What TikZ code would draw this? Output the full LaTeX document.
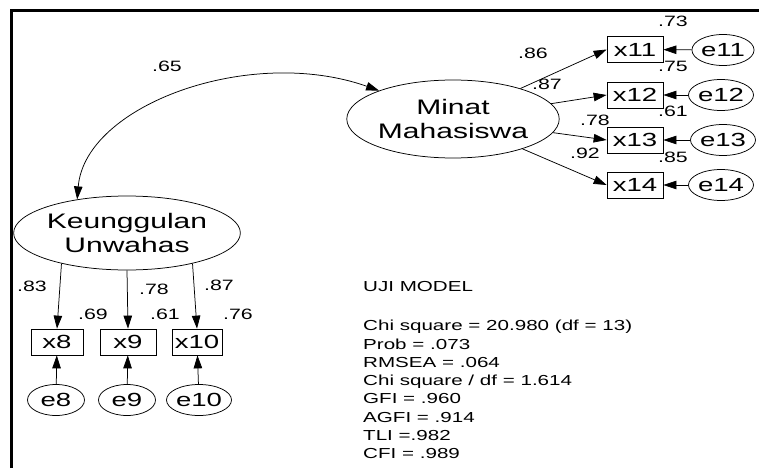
\documentclass[tikz,border=0pt]{standalone}
\usepackage{fontspec}
\setmainfont{Liberation Sans}
\newfontfamily\latfont[FakeStretch=1.43]{Liberation Sans}
\newfontfamily\obsfont[FakeStretch=1.45]{Liberation Sans}
\newfontfamily\lblfont[FakeStretch=1.42]{Liberation Sans}
\newfontfamily\statfont[FakeStretch=1.42]{Liberation Sans}
\usetikzlibrary{arrows.meta,shapes.geometric}
\tikzset{
  tip/.tip={Triangle[length=13pt,width=8.5pt]},
  lat/.style={draw,ellipse,line width=0.75pt,minimum width=190pt,minimum height=78pt,inner sep=0pt,align=center,font=\latfont\fontsize{21}{23.5}\selectfont},
  obs/.style={draw,rectangle,line width=0.75pt,minimum height=26pt,inner sep=0pt,font=\obsfont\fontsize{19}{20}\selectfont},
  err/.style={draw,ellipse,line width=0.75pt,minimum width=57pt,minimum height=31pt,inner sep=0pt,font=\obsfont\fontsize{19}{20}\selectfont},
  lbl/.style={inner sep=0pt,font=\lblfont\fontsize{15}{16}\selectfont},
  arr/.style={-tip,line width=0.75pt},
  stat/.style={inner sep=0pt,anchor=north west,align=left,font=\statfont\fontsize{14.5}{18.3}\selectfont},
}
\begin{document}
\begin{tikzpicture}[x=1pt,y=-1pt]
\useasboundingbox (0,0) rectangle (759,468);
\draw[line width=3pt] (11.5,468) -- (11.5,11) -- (759,11);

% latent variables
\node[lat] (m) at (453,119) {Minat\\Mahasiswa};
\node[lat,minimum height=74pt] (k) at (127,233) {Keunggulan\\Unwahas};

% observed, right group
\node[obs,minimum width=56pt] (x11) at (635,49.5) {x11};
\node[obs,minimum width=56pt] (x12) at (635,95) {x12};
\node[obs,minimum width=56pt] (x13) at (635,140) {x13};
\node[obs,minimum width=56pt] (x14) at (635,185) {x14};
\node[err] (e11) at (723,50) {e11};
\node[err] (e12) at (721,95) {e12};
\node[err] (e13) at (723,140) {e13};
\node[err] (e14) at (721,185) {e14};

% observed, bottom group
\node[obs,minimum width=52pt] (x8) at (57,342) {x8};
\node[obs,minimum width=56pt] (x9) at (128,342) {x9};
\node[obs,minimum width=50pt] (x10) at (197,342) {x10};
\node[err] (e8) at (56,400) {e8};
\node[err] (e9) at (127,400) {e9};
\node[err] (e10) at (199,400) {e10};

% connectors
\draw[arr] (m) -- (x11.west);
\draw[arr] (m) -- (x12.west);
\draw[arr] (m) -- (x13.west);
\draw[arr] (m) -- (x14.west);
\draw[arr] (e11) -- (x11);
\draw[arr] (e12) -- (x12);
\draw[arr] (e13) -- (x13);
\draw[arr] (e14) -- (x14);
\draw[arr] (k.205) -- (x8.north);
\draw[arr] (k.270) -- (x9.north);
\draw[arr] (k.335) -- (x10.north);
\draw[arr] (e8) -- (x8);
\draw[arr] (e9) -- (x9);
\draw[arr] (e10) -- (x10);
\draw[tip-tip,line width=0.75pt] (k.146) .. controls (85,105) and (250,45) .. (m.159);

% labels
\node[lbl] (l65) at (167,66) {.65};
\node[lbl] (l86) at (533,53) {.86};
\node[lbl] (l87) at (547,84) {.87};
\node[lbl] (l78a) at (595,120) {.78};
\node[lbl] (l92) at (585,153) {.92};
\node[lbl] (l73) at (673,21.5) {.73};
\node[lbl] (l75) at (673,66) {.75};
\node[lbl] (l61a) at (673,111) {.61};
\node[lbl] (l85) at (673,157) {.85};
\node[lbl] (l83) at (32,286) {.83};
\node[lbl] (l69) at (93,314) {.69};
\node[lbl] (l78b) at (154,289) {.78};
\node[lbl] (l61b) at (165,314) {.61};
\node[lbl] (l87b) at (219,285) {.87};
\node[lbl] (l76) at (238,314) {.76};

% model fit
\node[stat,anchor=west] (uji) at (363,287) {UJI MODEL};
\node[stat] (stats) at (363,320) {Chi square = 20.980 (df = 13)\\
Prob = .073\\
RMSEA = .064\\
Chi square / df = 1.614\\
GFI = .960\\
AGFI = .914\\
TLI =.982\\
CFI = .989};
\end{tikzpicture}
\end{document}
